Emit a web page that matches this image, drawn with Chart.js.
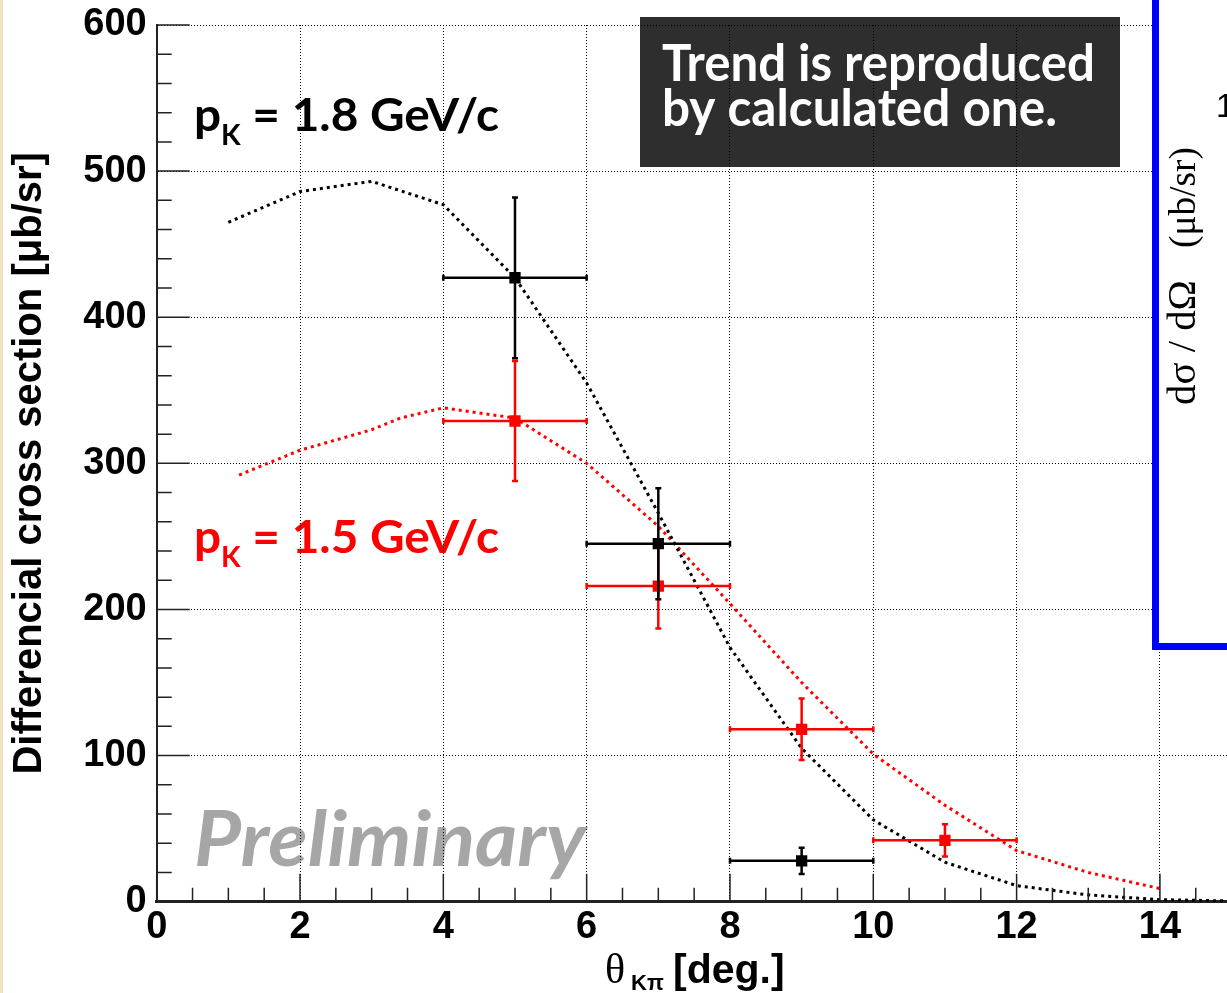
<!doctype html>
<html lang="en">
<head>
<meta charset="utf-8">
<title>Differencial cross section vs theta K pi</title>
<script src="https://cdn.jsdelivr.net/npm/chart.js"></script>
<style>
  html, body { margin: 0; padding: 0; background: #fff; overflow: hidden; }
</style>
</head>
<body>
<canvas id="chart" width="1227" height="993"></canvas>
<script>
// measured points, pK = 1.8 GeV/c (black)
const blackX = [5, 7, 9];
const blackY = [427, 245, 28];
const blackErrX = [1, 1, 1];
const blackErrY = [55, 38, 9];

// measured points, pK = 1.5 GeV/c (red)
const redX = [5, 7, 9, 11];
const redY = [329, 216, 118, 42];
const redErrX = [1, 1, 1, 1];
const redErrY = [41, 29, 21, 11];

// calculated curves
const calcBlackX = [1, 2, 3, 4, 5, 6, 7, 8, 9, 10, 11, 12, 13, 14, 15];
const calcBlackY = [465, 486, 493, 477, 427, 355, 266, 174, 105, 56, 27, 11, 4.6, 1.4, 0.5];
const calcRedX = [1.15, 2, 3, 3.4, 4, 5, 6, 7, 8, 9, 10, 11, 12, 13, 14];
const calcRedY = [292, 309, 323, 331, 338, 331, 300, 257, 204, 150, 101, 66, 35, 20, 9];

const xTickLabels = [0, 2, 4, 6, 8, 10, 12, 14];
const yTickLabels = [0, 100, 200, 300, 400, 500, 600];

function toXY(xs, ys) {
  return xs.map((v, i) => ({x: v, y: ys[i]}));
}

// draw text so that it spans a given length (and cap height if given)
function fitText(ctx, parts, o) {
  const fontAt = (s, p) => `${o.style} ${p.sub ? s * 0.6 : s}px ${o.family}`;
  let w = 0;
  parts.forEach(p => { ctx.font = fontAt(100, p); w += ctx.measureText(p.t).width; });
  const size = 100 * o.len / w;
  ctx.font = fontAt(size, {});
  const capNow = ctx.measureText('H').actualBoundingBoxAscent;
  const sy = o.cap ? o.cap / capNow : 1;
  ctx.save();
  ctx.translate(o.x, o.y);
  if (o.rot) ctx.rotate(o.rot);
  ctx.scale(1, sy);
  ctx.fillStyle = o.color;
  ctx.textBaseline = 'alphabetic';
  ctx.textAlign = 'left';
  let cx = 0;
  parts.forEach(p => {
    ctx.font = fontAt(size, p);
    ctx.fillText(p.t, cx, p.sub ? size * 0.3 : 0);
    cx += ctx.measureText(p.t).width;
  });
  ctx.restore();
}

function drawErrors(chart, xs, ys, ex, ey, col) {
  const {ctx, scales: {x, y}} = chart;
  ctx.save();
  ctx.strokeStyle = col;
  ctx.lineWidth = 2.5;
  ctx.beginPath();
  xs.forEach((v, i) => {
    const px = x.getPixelForValue(v), py = y.getPixelForValue(ys[i]);
    const x1 = x.getPixelForValue(v - ex[i]), x2 = x.getPixelForValue(v + ex[i]);
    const y1 = y.getPixelForValue(ys[i] + ey[i]), y2 = y.getPixelForValue(ys[i] - ey[i]);
    ctx.moveTo(x1, py); ctx.lineTo(x2, py);
    ctx.moveTo(px, y1); ctx.lineTo(px, y2);
    ctx.moveTo(x1, py - 3); ctx.lineTo(x1, py + 3);
    ctx.moveTo(x2, py - 3); ctx.lineTo(x2, py + 3);
    ctx.moveTo(px - 3, y1); ctx.lineTo(px + 3, y1);
    ctx.moveTo(px - 3, y2); ctx.lineTo(px + 3, y2);
  });
  ctx.stroke();
  ctx.restore();
}

const errorBars = {
  id: 'errorBars',
  beforeDatasetDraw(chart, args) {
    if (args.index === 1) drawErrors(chart, redX, redY, redErrX, redErrY, '#ff0000');
    if (args.index === 0) drawErrors(chart, blackX, blackY, blackErrX, blackErrY, '#000000');
  }
};

// texts that sit under the grid
const underText = {
  id: 'underText',
  beforeDraw(chart) {
    const ctx = chart.ctx;
    fitText(ctx, [{t: 'p'}, {t: 'K', sub: true}, {t: ' = 1.8 GeV/c'}],
      {x: 194, y: 131, len: 305, cap: 34, family: 'Lato', style: 'bold', color: '#000'});
    fitText(ctx, [{t: 'p'}, {t: 'K', sub: true}, {t: ' = 1.5 GeV/c'}],
      {x: 194, y: 553, len: 305, cap: 34, family: 'Lato', style: 'bold', color: '#ff0000'});
    fitText(ctx, [{t: 'Preliminary'}],
      {x: 194, y: 866, len: 392, cap: 55, family: 'Lato', style: 'italic bold', color: '#a6a6a6'});
  }
};

// inward ticks, like ROOT
const innerTicks = {
  id: 'innerTicks',
  afterDraw(chart) {
    const {ctx, chartArea: a, scales: {x, y}} = chart;
    ctx.save();
    ctx.strokeStyle = '#222';
    ctx.lineWidth = 1.5;
    ctx.beginPath();
    x.ticks.forEach(t => {
      const px = x.getPixelForValue(t.value);
      const len = t.value % 2 === 0 ? 28 : 14;
      ctx.moveTo(px, a.bottom); ctx.lineTo(px, a.bottom - len);
    });
    y.ticks.forEach(t => {
      const py = y.getPixelForValue(t.value);
      const len = t.value % 100 === 0 ? 33 : 15;
      ctx.moveTo(a.left, py); ctx.lineTo(a.left + len, py);
    });
    ctx.stroke();
    ctx.restore();
  }
};

const overlays = {
  id: 'overlays',
  afterDraw(chart) {
    const ctx = chart.ctx;
    ctx.save();
    // x axis title
    ctx.fillStyle = '#000';
    ctx.textBaseline = 'alphabetic';
    ctx.font = '42px "Liberation Serif"';
    ctx.fillText('θ', 605, 983);
    ctx.font = 'bold 22px "Liberation Sans"';
    ctx.fillText('Kπ', 631, 990);
    ctx.font = 'bold 41px "Liberation Sans"';
    ctx.fillText('[deg.]', 673, 983);

    // dark note box
    ctx.fillStyle = 'rgba(0,0,0,0.82)';
    ctx.fillRect(640, 17, 480, 150);
    ctx.restore();
    fitText(ctx, [{t: 'Trend is reproduced'}],
      {x: 662, y: 81, len: 433, cap: 38, family: 'Lato', style: 'bold', color: '#fff'});
    fitText(ctx, [{t: 'by calculated one.'}],
      {x: 662, y: 126, len: 395, cap: 38, family: 'Lato', style: 'bold', color: '#fff'});

    // blue framed panel at the right
    ctx.save();
    ctx.fillStyle = '#fff';
    ctx.fillRect(1152, 0, 80, 650);
    ctx.fillStyle = '#0000ff';
    ctx.fillRect(1152, 0, 7, 650);
    ctx.fillRect(1152, 643, 80, 7);
    ctx.fillStyle = '#000';
    ctx.font = '33px "Liberation Sans"';
    ctx.fillText('1', 1216, 117);
    ctx.restore();
    fitText(ctx, [{t: 'dσ / dΩ'}],
      {x: 1195, y: 405, len: 125, family: '"Liberation Serif"', style: 'normal', color: '#000', rot: -Math.PI / 2});
    fitText(ctx, [{t: '(μb/sr)'}],
      {x: 1195, y: 248, len: 101, family: '"Liberation Serif"', style: 'normal', color: '#000', rot: -Math.PI / 2});

    // slide edge
    ctx.save();
    ctx.fillStyle = '#f1e3bd';
    ctx.fillRect(0, 0, 3, 993);
    ctx.restore();
  }
};

new Chart(document.getElementById('chart'), {
  type: 'scatter',
  data: {
    datasets: [
      {
        label: 'pK = 1.8 GeV/c',
        data: toXY(blackX, blackY),
        showLine: false,
        pointStyle: 'rect',
        pointRadius: 8,
        backgroundColor: '#000',
        borderColor: '#000',
        borderWidth: 0
      },
      {
        label: 'pK = 1.5 GeV/c',
        data: toXY(redX, redY),
        showLine: false,
        pointStyle: 'rect',
        pointRadius: 8,
        backgroundColor: '#ff0000',
        borderColor: '#ff0000',
        borderWidth: 0
      },
      {
        label: 'calc 1.8',
        data: toXY(calcBlackX, calcBlackY),
        showLine: true,
        borderColor: '#000',
        borderWidth: 3,
        borderDash: [3, 4],
        pointRadius: 0,
        tension: 0
      },
      {
        label: 'calc 1.5',
        data: toXY(calcRedX, calcRedY),
        showLine: true,
        borderColor: '#ff0000',
        borderWidth: 3,
        borderDash: [3, 4],
        pointRadius: 0,
        tension: 0
      }
    ]
  },
  options: {
    responsive: false,
    animation: false,
    layout: {autoPadding: false, padding: {top: 25, left: 0, right: 0, bottom: 0}},
    plugins: {
      legend: {display: false},
      tooltip: {enabled: false}
    },
    scales: {
      x: {
        type: 'linear',
        bounds: 'data',
        min: 0,
        max: 14.936,
        afterFit: (s) => { s.height = 91.3; s.paddingLeft = 0; s.paddingRight = 0; },
        border: {display: true, color: '#222', width: 3, dash: [1, 2]},
        grid: {
          drawTicks: false,
          lineWidth: 1,
          color: (c) => c.tick && xTickLabels.includes(c.tick.value) && c.tick.value !== 0 ? '#000' : 'rgba(0,0,0,0)'
        },
        ticks: {
          stepSize: 0.5,
          includeBounds: false,
          autoSkip: false,
          maxRotation: 0,
          maxTicksLimit: 100,
          padding: 3,
          color: '#000',
          font: {family: '"Liberation Sans"', size: 38, weight: 'bold'},
          callback: (v) => xTickLabels.includes(v) ? String(v) : ''
        }
      },
      y: {
        type: 'linear',
        min: 0,
        max: 600,
        afterFit: (s) => { s.width = 156.7; s.paddingTop = 0; s.paddingBottom = 0; },
        border: {display: true, color: '#222', width: 2, dash: [1, 2]},
        grid: {
          drawTicks: false,
          lineWidth: 1,
          color: (c) => c.tick && yTickLabels.includes(c.tick.value) && c.tick.value !== 0 ? '#000' : 'rgba(0,0,0,0)'
        },
        ticks: {
          stepSize: 20,
          autoSkip: false,
          maxTicksLimit: 100,
          padding: 10,
          color: '#000',
          font: {family: '"Liberation Sans"', size: 38, weight: 'bold'},
          callback: (v) => yTickLabels.includes(v) ? String(v) : ''
        },
        title: {
          display: true,
          text: 'Differencial cross section [μb/sr]',
          color: '#000',
          padding: {top: 6, bottom: 0},
          font: {family: '"Liberation Sans"', size: 40, weight: 'bold'}
        }
      }
    }
  },
  plugins: [underText, errorBars, innerTicks, overlays]
});
</script>
</body>
</html>
